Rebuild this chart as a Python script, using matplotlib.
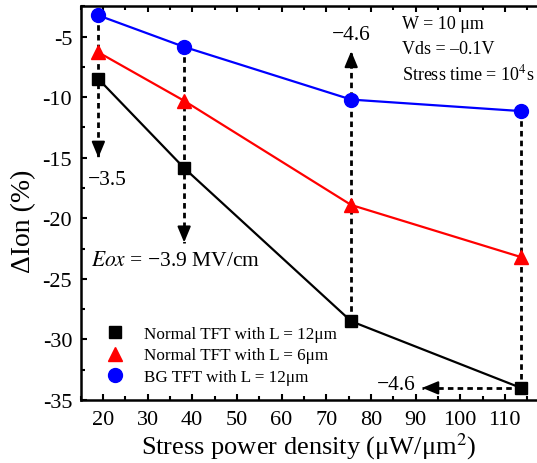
import numpy as np
import matplotlib.pyplot as plt
from matplotlib.ticker import MultipleLocator

plt.rcParams['font.family'] = ['Liberation Serif', 'DejaVu Serif']
plt.rcParams['mathtext.fontset'] = 'stix'

# данные
power = [19, 38.2, 75.6, 113.6]
normal_12 = [-8.5, -15.85, -28.5, -34.0]
normal_6 = [-6.3, -10.3, -18.9, -23.2]
bg_12 = [-3.25, -5.85, -10.2, -11.15]
labels = ['Normal TFT with L = 12μm', 'Normal TFT with L = 6μm', 'BG TFT with L = 12μm']

# концы стрелок
tip_1 = -15.0
tip_2 = -22.0
tip_3 = -6.2
tip_4 = 91.5

fig = plt.figure(figsize=(5.37, 4.64), dpi=100)
ax = fig.add_axes([80.5 / 537, 1 - 401 / 464, 1 - 80.5 / 537, (401 - 7.3) / 464])

ax.plot(power, normal_12, color='black', lw=1.6, marker='s', ms=9, label=labels[0], zorder=3)
ax.plot(power, normal_6, color='red', lw=1.6, marker='^', ms=10.5, label=labels[1], zorder=3)
ax.plot(power, bg_12, color='blue', lw=1.6, marker='o', ms=10, label=labels[2], zorder=3)

dash = dict(color='black', lw=2.0, ls=(0, (2.0, 1.5)), zorder=2)
head = dict(arrowstyle='-|>,head_length=0.6,head_width=0.25', color='black', lw=1.5,
            mutation_scale=16, shrinkA=0, shrinkB=0)

def v_arrow(x, y0, y1):
    ax.plot([x, x], [y0, y1], **dash)
    d = 0.8 if y1 > y0 else -0.8
    ax.annotate('', xy=(x, y1), xytext=(x, y1 - d), arrowprops=head, zorder=4)

v_arrow(power[0], bg_12[0], tip_1)
v_arrow(power[1], bg_12[1], tip_2)
v_arrow(power[2], normal_12[2], tip_3)
ax.plot([power[3], power[3]], [bg_12[3], normal_12[3]], **dash)
ax.plot([power[3], tip_4], [normal_12[3], normal_12[3]], **dash)
ax.annotate('', xy=(tip_4, normal_12[3]), xytext=(tip_4 + 2.5, normal_12[3]), arrowprops=head, zorder=4)

ax.text(16.7, -16.8, '−3.5', fontsize=15.5, va='center', ha='left')
ax.text(75.6, -4.8, '−4.6', fontsize=15.5, va='center', ha='center')
ax.text(85.7, -33.75, '−4.6', fontsize=15.5, va='center', ha='center')
ax.text(17.3, -23.5, '$Eox$ = −3.9 MV/cm', fontsize=15.5, va='center', ha='left')
ax.text(87, -3.95, 'W = 10 μm', fontsize=13, va='center')
ax.text(87, -6.0, 'Vds = –0.1V', fontsize=13, va='center')
ax.text(87, -8.05, 'Stress time = 10$^4$s', fontsize=13, va='center')

leg = ax.legend(loc='lower left', bbox_to_anchor=(0.02, 0.0), frameon=False, fontsize=12.3,
                handlelength=1.2, handletextpad=1.1, labelspacing=0.3)
for h in leg.legend_handles:
    h.set_linestyle('')

ax.set_xlim(15, 117.2)
ax.set_ylim(-35, -2.5)
ax.xaxis.set_minor_locator(MultipleLocator(5))
ax.yaxis.set_minor_locator(MultipleLocator(2.5))
ax.set_xticks(np.arange(20, 111, 10))
ax.set_yticks(np.arange(-35, -4, 5))
ax.set_yticklabels([str(v) for v in range(-35, -4, 5)])
ax.tick_params(which='both', direction='in', top=True, right=False, width=1.5, labelsize=16)
ax.tick_params(which='major', length=4.5)
ax.tick_params(which='minor', length=3)
ax.tick_params(axis='x', pad=7)
ax.tick_params(axis='y', pad=6)
for s in ['left', 'bottom', 'top']:
    ax.spines[s].set_linewidth(1.8)
ax.spines['right'].set_visible(False)

ax.set_xlabel('Stress power density (μW/μm$^2$)', fontsize=19, va='center')
ax.xaxis.set_label_coords(0.5, -0.117)
ax.set_ylabel('ΔIon (%)', fontsize=20, va='center')
ax.yaxis.set_label_coords(-0.124, 0.457)

fig.savefig('out.png', dpi=100)
